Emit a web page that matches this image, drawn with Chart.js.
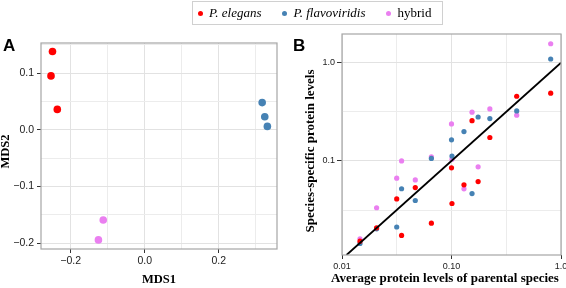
<!DOCTYPE html>
<html>
<head>
<meta charset="utf-8">
<script src="https://cdn.jsdelivr.net/npm/chart.js@4"></script>
<style>
  html, body { margin: 0; padding: 0; background: #fff; }
  #wrap { position: relative; width: 566px; height: 288px; overflow: hidden; }
  canvas { position: absolute; top: 0; }
  #chartA { left: 0; }
  #chartB { left: 290px; }
  .panel { position: absolute; font: bold 17px 'Liberation Sans', Arial, sans-serif; color: #000; line-height: 1; }
  #legend {
    position: absolute; left: 192px; top: 1px; width: 251px; height: 24px;
    border: 1px solid #d0d0d0; box-sizing: border-box;
    display: flex; align-items: center; padding-left: 5px; white-space: nowrap;
    font: 13px 'Liberation Serif', 'Times New Roman', serif; color: #000;
  }
  #legend .item { display: flex; align-items: center; margin-right: 21px; flex: none; }
  #legend .dot { width: 5px; height: 5px; border-radius: 50%; margin-right: 6px; flex: none; }
</style>
</head>
<body>
<div id="wrap">
  <canvas id="chartA" width="290" height="288"></canvas>
  <canvas id="chartB" width="276" height="288"></canvas>
  <div class="panel" style="left:3px; top:37px;">A</div>
  <div class="panel" style="left:293px; top:37px;">B</div>
  <div id="legend"></div>
</div>
<script>
'use strict';

// series
var seriesNames = ['P. elegans', 'P. flavoviridis', 'hybrid'];
var seriesItalic = [true, true, false];
var seriesColors = ['#ff0000', '#4682b4', '#ea7ff0'];

// panel A: MDS coordinates
var mdsElegansX = [-0.249, -0.253, -0.236];
var mdsElegansY = [0.138, 0.095, 0.036];
var mdsFlavoX = [0.317, 0.324, 0.331];
var mdsFlavoY = [0.048, 0.023, 0.006];
var mdsHybridX = [-0.112, -0.125];
var mdsHybridY = [-0.159, -0.194];

var aXTicks = [-0.2, -0.1, 0, 0.1, 0.2, 0.3];
var aXLabels = ['\u22120.2', '', '0.0', '', '0.2', ''];
var aYTicks = [-0.2, -0.15, -0.1, -0.05, 0, 0.05, 0.1, 0.15];
var aYLabels = ['\u22120.2', '', '\u22120.1', '', '0.0', '', '0.1', ''];

// panel B: average parental level vs species-specific level (one x per protein)
var parentalAvg = [0.0146, 0.0207, 0.0316, 0.035, 0.0467, 0.0655, 0.100, 0.101, 0.130, 0.154, 0.175, 0.224, 0.394, 0.805];
var levelElegans = [0.0152, 0.0208, 0.041, 0.0174, 0.0535, 0.0232, 0.0849, 0.0368, 0.057, 0.257, 0.0615, 0.173, 0.455, 0.489];
var levelFlavo = [0.0144, 0.0203, 0.0212, 0.052, 0.0395, 0.106, 0.164, 0.112, 0.199, 0.0465, 0.28, 0.27, 0.323, 1.09];
var levelHybrid = [0.0161, 0.0333, 0.0667, 0.100, 0.064, 0.110, 0.238, 0.104, 0.0519, 0.313, 0.087, 0.338, 0.292, 1.56];
var diagX = [0.011, 1.0];
var diagY = [0.011, 1.0];

var bXTicks = [0.01, 0.0316, 0.1, 0.316, 1.0];
var bXLabels = ['0.01', '', '0.10', '', '1.0'];
var bYTicks = [0.0316, 0.1, 0.316, 1.0];
var bYLabels = ['', '0.1', '', '1.0'];

// legend (html)
var legend = document.getElementById('legend');
seriesNames.forEach(function (name, i) {
  var item = document.createElement('span');
  item.className = 'item';
  var dot = document.createElement('span');
  dot.className = 'dot';
  dot.style.background = seriesColors[i];
  var txt = document.createElement('span');
  txt.textContent = name;
  if (seriesItalic[i]) txt.style.fontStyle = 'italic';
  item.appendChild(dot);
  item.appendChild(txt);
  legend.appendChild(item);
});

function zip(xs, ys) {
  return xs.map(function (x, i) { return { x: x, y: ys[i] }; });
}

function fixTicks(values) {
  return function (scale) {
    scale.ticks = values.map(function (v) { return { value: v }; });
  };
}

function fixSize(size) {
  return function (scale) {
    if (scale.isHorizontal()) scale.height = size; else scale.width = size;
    scale.paddingLeft = 0; scale.paddingRight = 0;
    scale.paddingTop = 0; scale.paddingBottom = 0;
  };
}

function axis(opts) {
  return {
    type: opts.type,
    min: opts.min,
    max: opts.max,
    bounds: 'data',
    afterBuildTicks: fixTicks(opts.ticks),
    afterFit: fixSize(opts.size),
    border: { display: false },
    grid: {
      color: function (ctx) { return opts.labels[ctx.index] ? '#e2e2e2' : '#ececec'; },
      lineWidth: 1,
      tickLength: opts.tickLength,
      tickColor: function (ctx) { return opts.labels[ctx.index] ? '#333' : 'rgba(0,0,0,0)'; },
      tickWidth: 1
    },
    ticks: {
      autoSkip: false,
      maxRotation: 0,
      padding: opts.padding,
      color: '#222',
      font: { family: "'Liberation Sans', Arial, sans-serif", size: opts.fontSize },
      callback: function (v, i) { return opts.labels[i]; }
    },
    title: { display: false }
  };
}

var panelBorder = {
  id: 'panelBorder',
  afterDraw: function (chart) {
    var a = chart.chartArea, c = chart.ctx;
    c.save();
    c.strokeStyle = '#a6a6a6';
    c.lineWidth = 1.2;
    c.strokeRect(a.left, a.top, a.right - a.left, a.bottom - a.top);
    c.restore();
  }
};

// axis titles, placed relative to the plot area centre
var axisTitles = {
  id: 'axisTitles',
  afterDraw: function (chart, args, o) {
    var a = chart.chartArea, c = chart.ctx;
    c.save();
    c.fillStyle = '#000';
    c.font = 'bold ' + o.size + "px 'Liberation Serif', 'Times New Roman', serif";
    c.textAlign = 'center';
    c.textBaseline = 'middle';
    c.fillText(o.xText, (a.left + a.right) / 2 + o.xdx, o.xy);
    c.translate(o.yx, (a.top + a.bottom) / 2 + o.ydy);
    c.rotate(-Math.PI / 2);
    c.fillText(o.yText, 0, 0);
    c.restore();
  }
};

var common = {
  responsive: false,
  animation: false,
  events: []
};

function pointSet(i, data, r) {
  return {
    label: seriesNames[i],
    data: data,
    backgroundColor: seriesColors[i],
    borderWidth: 0,
    pointRadius: r
  };
}

new Chart(document.getElementById('chartA'), {
  type: 'scatter',
  data: {
    datasets: [
      pointSet(0, zip(mdsElegansX, mdsElegansY), 3.8),
      pointSet(1, zip(mdsFlavoX, mdsFlavoY), 3.8),
      pointSet(2, zip(mdsHybridX, mdsHybridY), 3.8)
    ]
  },
  options: Object.assign({}, common, {
    layout: { padding: { left: 0, top: 43, right: 13, bottom: 0 }, autoPadding: false },
    plugins: {
      legend: { display: false },
      tooltip: { enabled: false },
      axisTitles: { size: 12.5, xText: 'MDS1', xdx: 0, xy: 280, yText: 'MDS2', yx: 6, ydy: 5.5 }
    },
    scales: {
      x: axis({ type: 'linear', min: -0.28, max: 0.357, ticks: aXTicks, labels: aXLabels, size: 39,
        tickLength: 4, padding: 2, fontSize: 10.5 }),
      y: axis({ type: 'linear', min: -0.21, max: 0.153, ticks: aYTicks, labels: aYLabels, size: 41,
        tickLength: 4, padding: 3, fontSize: 10.5 })
    }
  }),
  plugins: [panelBorder, axisTitles]
});

new Chart(document.getElementById('chartB'), {
  type: 'scatter',
  data: {
    datasets: [
      {
        type: 'line',
        label: 'y = x',
        data: zip(diagX, diagY),
        borderColor: '#000',
        borderWidth: 1.8,
        pointRadius: 0,
        order: 0
      },
      Object.assign(pointSet(0, zip(parentalAvg, levelElegans), 2.6), { order: 1 }),
      Object.assign(pointSet(1, zip(parentalAvg, levelFlavo), 2.6), { order: 1 }),
      Object.assign(pointSet(2, zip(parentalAvg, levelHybrid), 2.6), { order: 1 })
    ]
  },
  options: Object.assign({}, common, {
    layout: { padding: { left: 12, top: 34, right: 5, bottom: 0 }, autoPadding: false },
    plugins: {
      legend: { display: false },
      tooltip: { enabled: false },
      axisTitles: { size: 13, xText: 'Average protein levels of parental species', xdx: -6.5, xy: 279,
        yText: 'Species-specific protein levels', yx: 20.7, ydy: 6.5 }
    },
    scales: {
      x: axis({ type: 'logarithmic', min: 0.01, max: 1.0, ticks: bXTicks, labels: bXLabels, size: 33,
        tickLength: 4, padding: 2, fontSize: 9 }),
      y: axis({ type: 'logarithmic', min: 0.011, max: 1.96, ticks: bYTicks, labels: bYLabels, size: 40,
        tickLength: 5, padding: 2, fontSize: 9 })
    }
  }),
  plugins: [panelBorder, axisTitles]
});
</script>
</body>
</html>
